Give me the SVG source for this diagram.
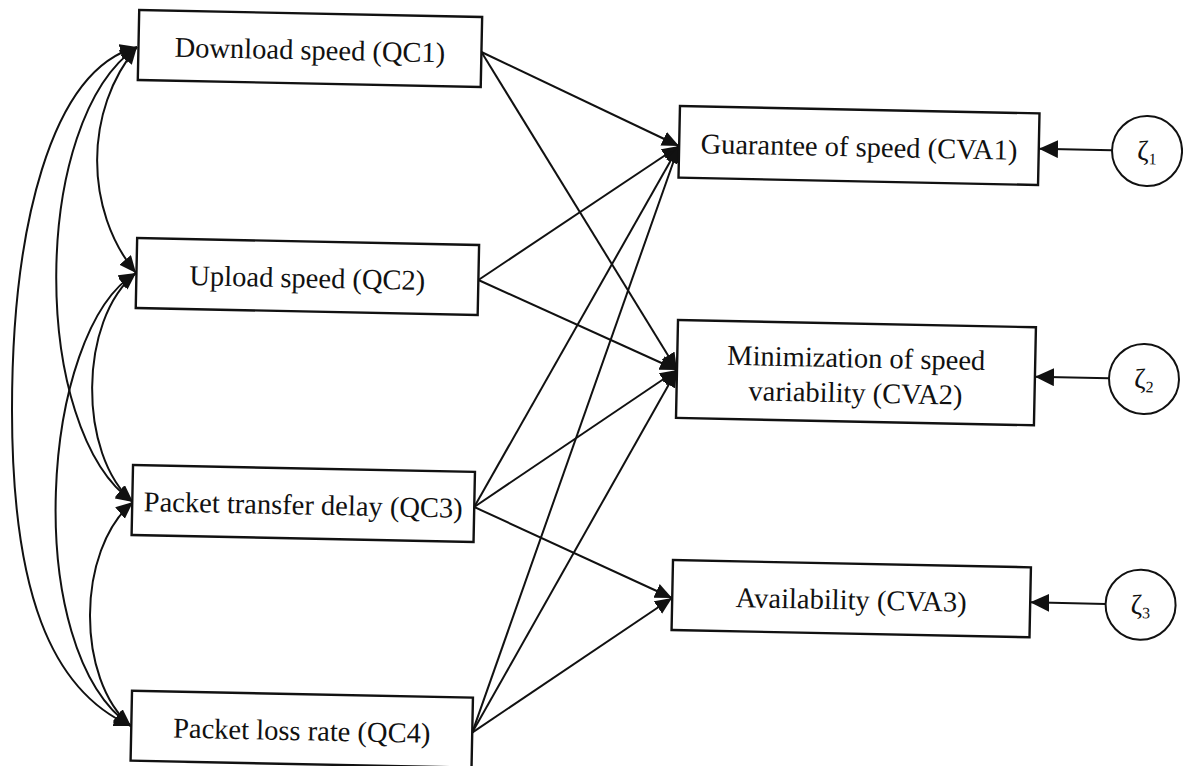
<svg xmlns="http://www.w3.org/2000/svg" width="1183" height="766" viewBox="0 0 1183 766">
<style>
  .box { fill: #ffffff; stroke: #111111; stroke-width: 2.4; }
  .circ { fill: #ffffff; stroke: #111111; stroke-width: 2; }
  .lbl { font-family: "Liberation Serif", "Times New Roman", serif; font-size: 28.5px; fill: #111111; text-anchor: middle; }
  .zeta { font-family: "Liberation Serif", "Times New Roman", serif; font-size: 28px; fill: #111111; text-anchor: middle; }
  .sub { font-size: 16px; }
  .ln { fill: none; stroke: #111111; stroke-width: 2; }
  .dbl { marker-start: url(#ah); marker-end: url(#ah); }
  .one { marker-end: url(#ah); }
  .big { marker-end: url(#ahb); }
</style>
<defs>
  <marker id="ah" markerUnits="userSpaceOnUse" markerWidth="19" markerHeight="16" refX="17" refY="7.5" orient="auto-start-reverse">
    <path d="M0,0 L17,7.5 L0,15 Z" fill="#111111"/>
  </marker>
  <marker id="ahb" markerUnits="userSpaceOnUse" markerWidth="21" markerHeight="19" refX="19" refY="9" orient="auto">
    <path d="M0,0 L19,9 L0,18 Z" fill="#111111"/>
  </marker>
</defs>
<rect x="0" y="0" width="1183" height="766" fill="#ffffff"/>

<g id="connectors">
  <!-- correlations (double-headed curves) -->
  <path class="ln dbl" d="M137,47 C84,110 84,210 136,273"/>
  <path class="ln dbl" d="M137,47 C30,120 30,430 133,502"/>
  <path class="ln dbl" d="M137,47 C50,70 12,230 12,410 C12,590 50,690 131,726"/>
  <path class="ln dbl" d="M136,273 C78,320 78,455 133,502"/>
  <path class="ln dbl" d="M136,273 C40,330 20,650 131,726"/>
  <path class="ln dbl" d="M133,502 C76,550 76,680 131,726"/>
  <!-- paths to CVA -->
  <path class="ln one" d="M481.4,52 L679,146"/>
  <path class="ln one" d="M481.4,52 L677,370"/>
  <path class="ln one" d="M478.4,280 L679,146"/>
  <path class="ln one" d="M478.4,280 L677,370"/>
  <path class="ln one" d="M474.2,507 L679,146"/>
  <path class="ln one" d="M474.2,507 L677,370"/>
  <path class="ln one" d="M474.2,507 L672,598"/>
  <path class="ln one" d="M472.2,732.6 L679,146"/>
  <path class="ln one" d="M472.2,732.6 L677,370"/>
  <path class="ln one" d="M472.2,732.6 L672,598"/>
  <!-- disturbances -->
  <path class="ln big" d="M1112,150.2 L1039,148.7"/>
  <path class="ln big" d="M1109,378.3 L1035,376.8"/>
  <path class="ln big" d="M1105.6,604.1 L1030.2,602.3"/>
</g>

<g transform="rotate(1.17 591 383)">
  <g id="QC1">
    <rect class="box" x="131.7" y="19.3" width="343" height="70"/>
    <text class="lbl" x="303.2" y="65.3">Download speed (QC1)</text>
  </g>
  <g id="QC2">
    <rect class="box" x="134.3" y="247.3" width="342" height="70"/>
    <text class="lbl" x="305.3" y="293.3">Upload speed (QC2)</text>
  </g>
  <g id="QC3">
    <rect class="box" x="134.8" y="474.3" width="342" height="70"/>
    <text class="lbl" x="305.8" y="520.3">Packet transfer delay (QC3)</text>
  </g>
  <g id="QC4">
    <rect class="box" x="138.4" y="700" width="341" height="70"/>
    <text class="lbl" x="308.9" y="746">Packet loss rate (QC4)</text>
  </g>
  <g id="CVA1">
    <rect class="box" x="674.3" y="104.3" width="359.6" height="71.6"/>
    <text class="lbl" x="854.1" y="151">Guarantee of speed (CVA1)</text>
  </g>
  <g id="CVA2">
    <rect class="box" x="676.7" y="318.2" width="358" height="98"/>
    <text class="lbl" x="855.7" y="362">Minimization of speed</text>
    <text class="lbl" x="855.7" y="397">variability (CVA2)</text>
  </g>
  <g id="CVA3">
    <rect class="box" x="676.6" y="558.3" width="358" height="70"/>
    <text class="lbl" x="855.6" y="604">Availability (CVA3)</text>
  </g>
  <g id="zeta1">
    <circle class="circ" cx="1142.2" cy="139.7" r="35"/>
    <text class="zeta" x="1142.2" y="149">ζ<tspan class="sub" dy="4">1</tspan></text>
  </g>
  <g id="zeta2">
    <circle class="circ" cx="1143.8" cy="367.7" r="35"/>
    <text class="zeta" x="1143.8" y="377">ζ<tspan class="sub" dy="4">2</tspan></text>
  </g>
  <g id="zeta3">
    <circle class="circ" cx="1145" cy="593.5" r="35"/>
    <text class="zeta" x="1145" y="603">ζ<tspan class="sub" dy="4">3</tspan></text>
  </g>
</g>
</svg>
